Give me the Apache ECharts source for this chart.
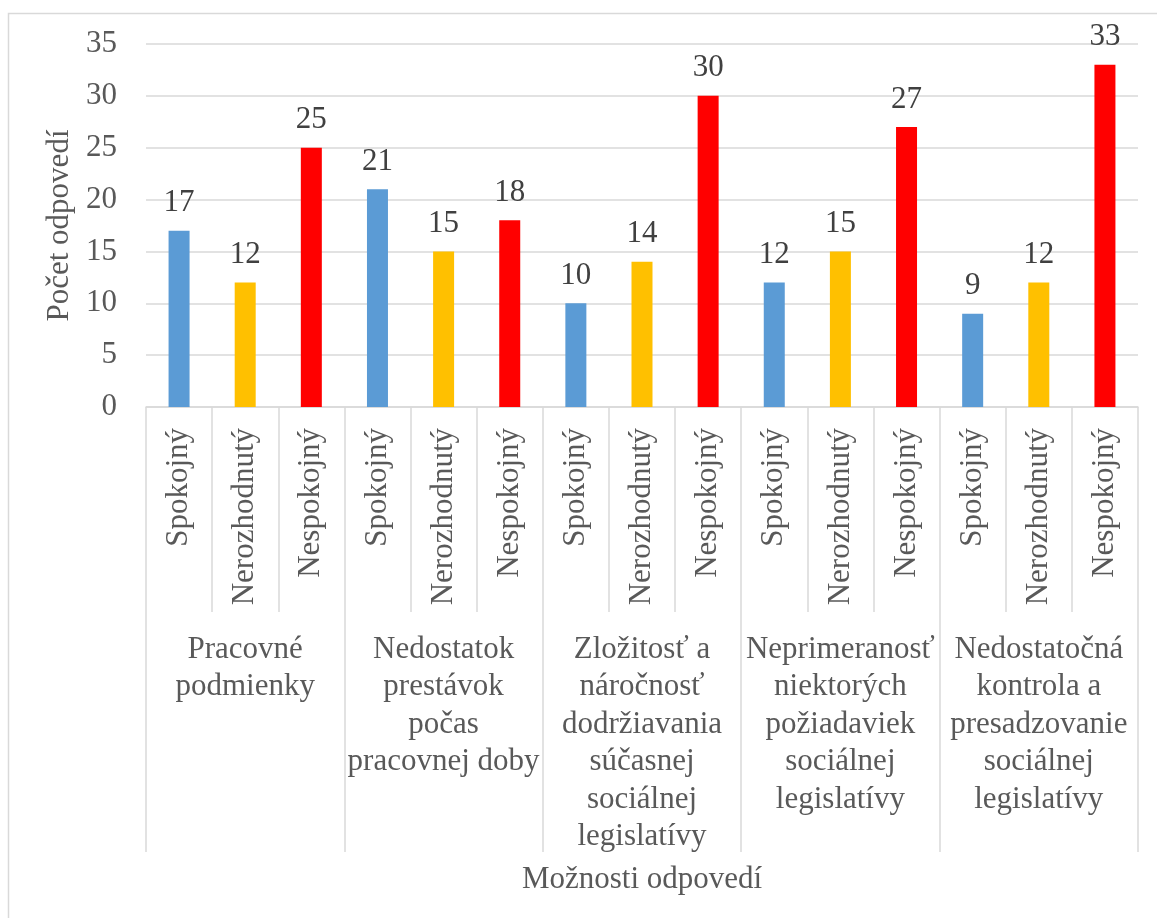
<!DOCTYPE html>
<html>
<head>
<meta charset="utf-8">
<script src="https://cdn.jsdelivr.net/npm/echarts@6/dist/echarts.min.js"></script>
<style>
html,body{margin:0;padding:0;background:#fff;}
#chart{width:1157px;height:918px;}
</style>
</head>
<body>
<div id="chart"></div>
<script>
const groups = [
  "Pracovné\npodmienky",
  "Nedostatok\nprestávok\npočas\npracovnej doby",
  "Zložitosť a\nnáročnosť\ndodržiavania\nsúčasnej\nsociálnej\nlegislatívy",
  "Neprimeranosť\nniektorých\npožiadaviek\nsociálnej\nlegislatívy",
  "Nedostatočná\nkontrola a\npresadzovanie\nsociálnej\nlegislatívy"
];
const answers = ["Spokojný", "Nerozhodnutý", "Nespokojný"];
const spokojny = [17, 21, 10, 12, 9];
const nerozhodnuty = [12, 15, 14, 15, 12];
const nespokojny = [25, 18, 30, 27, 33];
const yTicks = {min: 0, max: 35, interval: 5};
const answerColors = ["#5B9BD5", "#FFC000", "#FF0000"];

const FONT = '"Liberation Serif", "Times New Roman", serif';
const seriesVals = [spokojny, nerozhodnuty, nespokojny];
const cats = [];
const data = [];
groups.forEach((g, gi) => {
  answers.forEach((a, ai) => {
    cats.push(a);
    data.push({value: seriesVals[ai][gi], itemStyle: {color: answerColors[ai]}});
  });
});

const chart = echarts.init(document.getElementById('chart'), null, {renderer: 'canvas'});
chart.setOption({
  animation: false,
  backgroundColor: '#fff',
  textStyle: {fontFamily: FONT},
  graphic: [{
    type: 'rect', shape: {x: 8.5, y: 13.5, width: 1160, height: 920},
    style: {fill: null, stroke: '#D9D9D9', lineWidth: 1.5}, silent: true, z: -10
  }],
  grid: {left: 146, right: 19, top: 44, bottom: 511, containLabel: false, outerBoundsMode: 'none'},
  xAxis: [{
    type: 'category', data: cats, position: 'bottom',
    axisLine: {show: true, lineStyle: {color: '#D9D9D9', width: 1.5}},
    axisTick: {show: true, interval: 0, length: 205, lineStyle: {color: '#D9D9D9', width: 1.5}},
    axisLabel: {interval: 0, rotate: 90, margin: 21, fontSize: 31, color: '#595959', fontFamily: FONT},
    splitLine: {show: false}
  }, {
    type: 'category', data: groups, position: 'bottom',
    axisLine: {show: false},
    axisTick: {show: true, interval: 0, length: 445, lineStyle: {color: '#D9D9D9', width: 1.5}},
    axisLabel: {interval: 0, margin: 224, fontSize: 31, lineHeight: 37.5, color: '#595959', fontFamily: FONT, verticalAlign: 'top', align: 'center'},
    name: 'Možnosti odpovedí', nameLocation: 'middle', nameGap: 457,
    nameTextStyle: {fontSize: 31, color: '#595959', fontFamily: FONT, verticalAlign: 'top'},
    splitLine: {show: false}
  }],
  yAxis: {
    type: 'value', min: yTicks.min, max: yTicks.max, interval: yTicks.interval,
    axisLine: {show: false}, axisTick: {show: false},
    axisLabel: {fontSize: 31, color: '#595959', margin: 29, fontFamily: FONT},
    splitLine: {lineStyle: {color: '#D9D9D9', width: 1.5}},
    name: 'Počet odpovedí', nameLocation: 'middle', nameGap: 70,
    nameTextStyle: {fontSize: 31, color: '#595959', fontFamily: FONT}
  },
  series: [{
    type: 'bar', xAxisIndex: 0, data: data, barWidth: 21,
    label: {show: true, position: 'top', distance: 12, fontSize: 31, color: '#404040', fontFamily: FONT}
  }]
});
</script>
</body>
</html>
